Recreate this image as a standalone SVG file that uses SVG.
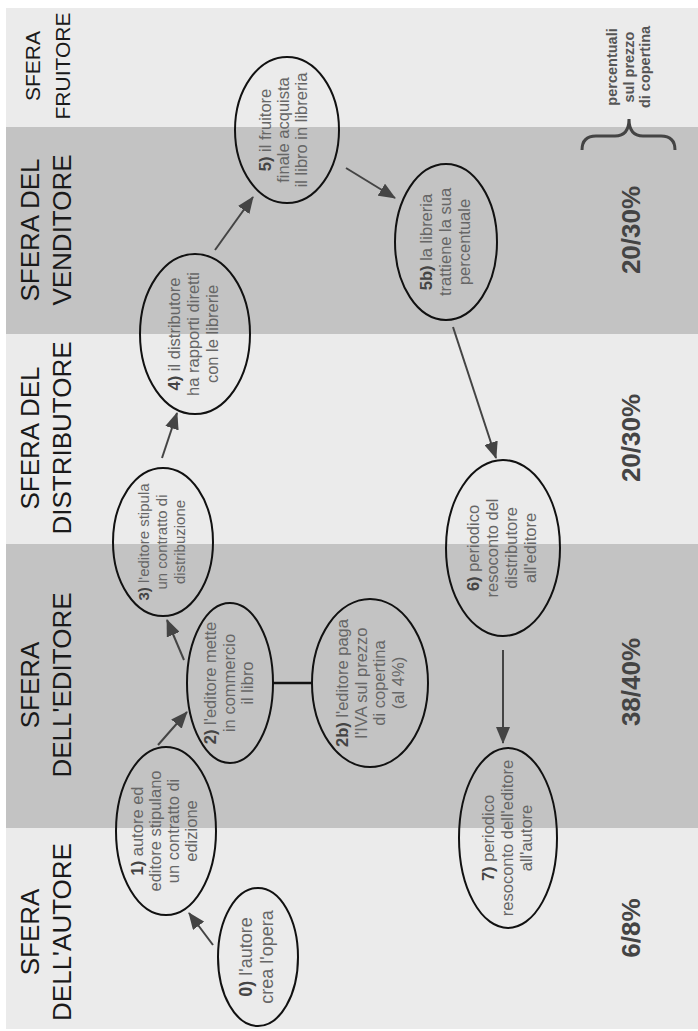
<svg xmlns="http://www.w3.org/2000/svg" width="698" height="1031" viewBox="0 0 698 1031">
<style>
.light{fill:#ebebeb}
.dark{fill:#c3c3c3}
.title{font-family:"Liberation Sans",Arial,sans-serif;font-size:26px;fill:#1a1a1a;text-anchor:middle}
.title.sm{font-size:21px}
.pct{font-family:"Liberation Sans",Arial,sans-serif;font-size:26px;font-weight:bold;fill:#444;text-anchor:middle}
.note{font-family:"Liberation Sans",Arial,sans-serif;font-size:14.5px;font-weight:bold;fill:#555;text-anchor:middle}
.node ellipse{fill:none;stroke:#111;stroke-width:2}
.node text{font-family:"Liberation Sans",Arial,sans-serif;font-size:16.5px;fill:#666;text-anchor:middle}
.node text.s15{font-size:15px}
.node text.s18{font-size:18px}
.node text tspan.b{font-weight:bold;fill:#444}
.conn line{stroke:#444;stroke-width:2}
.conn line.arr{marker-end:url(#ah)}
.conn line.plain{stroke:#111;stroke-width:2.5}
</style>
<defs>
<marker id="ah" markerUnits="userSpaceOnUse" markerWidth="17" markerHeight="14" refX="16" refY="7" orient="auto">
<path d="M0,0 L17,7 L0,14 z" fill="#444"/>
</marker>
</defs>
<rect x="0" y="0" width="698" height="1031" fill="#ffffff"/>
<g id="bands">
<rect class="light" x="6" y="8" width="692" height="119"/>
<rect class="dark" x="6" y="127" width="692" height="207"/>
<rect class="light" x="6" y="334" width="692" height="210"/>
<rect class="dark" x="6" y="544" width="692" height="284"/>
<rect class="light" x="6" y="828" width="692" height="201"/>
</g>
<g id="titles">
<g transform="translate(0,66) rotate(-90)"><text class="title sm" x="0" y="40">SFERA</text><text class="title sm" x="0" y="70">FRUITORE</text></g>
<g transform="translate(0,230) rotate(-90)"><text class="title" x="0" y="38.5">SFERA DEL</text><text class="title" x="0" y="71">VENDITORE</text></g>
<g transform="translate(0,438) rotate(-90)"><text class="title" x="0" y="38.5">SFERA DEL</text><text class="title" x="0" y="71">DISTRIBUTORE</text></g>
<g transform="translate(0,685) rotate(-90)"><text class="title" x="0" y="38.5">SFERA</text><text class="title" x="0" y="71">DELL'EDITORE</text></g>
<g transform="translate(0,932) rotate(-90)"><text class="title" x="0" y="38.5">SFERA</text><text class="title" x="0" y="71">DELL'AUTORE</text></g>
</g>
<g id="percentages">
<g transform="translate(0,67) rotate(-90)"><text class="note" x="0" y="617">percentuali</text><text class="note" x="0" y="633.5">sul prezzo</text><text class="note" x="0" y="650">di copertina</text></g>
<path d="M582,150 Q582,136 596,136 L615,136 Q629,136 629,119 Q629,136 643,136 L661,136 Q675,136 675,150" fill="none" stroke="#444" stroke-width="3"/>
<text class="pct" transform="translate(640,230) rotate(-90)">20/30%</text>
<text class="pct" transform="translate(640,438) rotate(-90)">20/30%</text>
<text class="pct" transform="translate(640,682) rotate(-90)">38/40%</text>
<text class="pct" transform="translate(640,928) rotate(-90)">6/8%</text>
</g>
<g id="connectors" class="conn">
<line class="arr" x1="213" y1="945" x2="189" y2="913"/>
<line class="arr" x1="158" y1="745" x2="187" y2="712"/>
<line class="arr" x1="184" y1="660" x2="167" y2="620"/>
<line class="arr" x1="162" y1="458" x2="177" y2="413"/>
<line class="arr" x1="215" y1="250" x2="253" y2="197"/>
<line class="arr" x1="346" y1="168" x2="395" y2="198"/>
<line class="arr" x1="453" y1="327" x2="496" y2="458"/>
<line class="arr" x1="503" y1="650" x2="503" y2="743"/>
<line class="plain" x1="273" y1="683" x2="312" y2="683"/>
</g>
<g id="n0" class="node"><ellipse cx="258" cy="957" rx="40" ry="69"/>
<g transform="translate(258,957) rotate(-90)"><text class="s18" x="0" y="-6"><tspan class="b">0)</tspan> l'autore</text><text class="s18" x="0" y="15">crea l'opera</text></g></g>
<g id="n1" class="node"><ellipse cx="166" cy="831" rx="50" ry="84"/>
<g transform="translate(166,831) rotate(-90)"><text x="0" y="-23"><tspan class="b">1)</tspan> autore ed</text><text x="0" y="-5">editore stipulano</text><text x="0" y="13">un contratto di</text><text x="0" y="31">edizione</text></g></g>
<g id="n2" class="node"><ellipse cx="230" cy="683" rx="43" ry="80"/>
<g transform="translate(230,683) rotate(-90)"><text x="0" y="-14"><tspan class="b">2)</tspan> l'editore mette</text><text x="0" y="4.5">in commercio</text><text x="0" y="23">il libro</text></g></g>
<g id="n2b" class="node"><ellipse cx="370" cy="683" rx="58" ry="84"/>
<g transform="translate(370,683) rotate(-90)"><text x="0" y="-22"><tspan class="b">2b)</tspan> l'editore paga</text><text x="0" y="-3.5">l'IVA sul prezzo</text><text x="0" y="15">di copertina</text><text x="0" y="33.5">(al 4%)</text></g></g>
<g id="n3" class="node"><ellipse cx="163" cy="542" rx="50" ry="74"/>
<g transform="translate(163,542) rotate(-90)"><text class="s15" x="0" y="-14"><tspan class="b">3)</tspan> l'editore stipula</text><text class="s15" x="0" y="4">un contratto di</text><text class="s15" x="0" y="22">distribuzione</text></g></g>
<g id="n4" class="node"><ellipse cx="195" cy="334" rx="55" ry="80"/>
<g transform="translate(195,334) rotate(-90)"><text x="0" y="-15"><tspan class="b">4)</tspan> il distributore</text><text x="0" y="4">ha rapporti diretti</text><text x="0" y="23">con le librerie</text></g></g>
<g id="n5" class="node"><ellipse cx="287" cy="130" rx="52" ry="73"/>
<g transform="translate(287,130) rotate(-90)"><text x="0" y="-16"><tspan class="b">5)</tspan> il fruitore</text><text x="0" y="2">finale acquista</text><text x="0" y="20">il libro in libreria</text></g></g>
<g id="n5b" class="node"><ellipse cx="446" cy="242" rx="51" ry="78"/>
<g transform="translate(446,242) rotate(-90)"><text x="0" y="-14"><tspan class="b">5b)</tspan> la libreria</text><text x="0" y="5">trattiene la sua</text><text x="0" y="24">percentuale</text></g></g>
<g id="n6" class="node"><ellipse cx="503" cy="548" rx="57" ry="88"/>
<g transform="translate(503,548) rotate(-90)"><text x="0" y="-24"><tspan class="b">6)</tspan> periodico</text><text x="0" y="-5">resoconto del</text><text x="0" y="14">distributore</text><text x="0" y="33">all'editore</text></g></g>
<g id="n7" class="node"><ellipse cx="508" cy="838" rx="49" ry="90"/>
<g transform="translate(508,838) rotate(-90)"><text x="0" y="-14"><tspan class="b">7)</tspan> periodico</text><text x="0" y="5">resoconto dell'editore</text><text x="0" y="24">all'autore</text></g></g>
</svg>
